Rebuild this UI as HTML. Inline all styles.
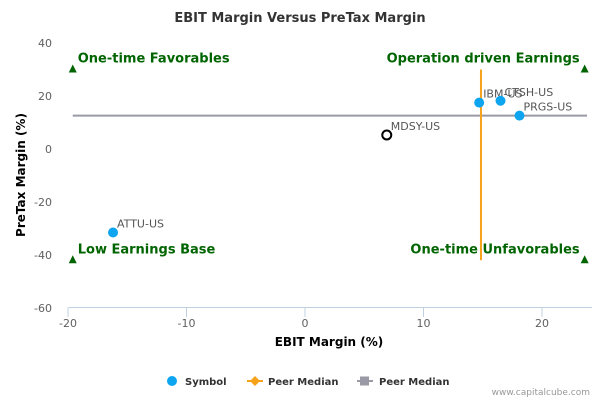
<!DOCTYPE html>
<html><head><meta charset="utf-8"><style>
body{margin:0;background:#fff;font-family:"Liberation Sans","DejaVu Sans",sans-serif}
svg text{font-family:"DejaVu Sans","Liberation Sans",sans-serif}
</style></head><body>
<svg id="c" width="600" height="400" xmlns="http://www.w3.org/2000/svg">
<text x="300" y="22" text-anchor="middle" font-size="13" font-weight="bold" fill="#333">EBIT Margin Versus PreTax Margin</text>
<g id="grid"></g>
<line x1="69" y1="307.5" x2="592" y2="307.5" stroke="#c0d0e0"/>
<g id="xt"></g><g id="yt"></g>
<text x="329" y="346" text-anchor="middle" font-size="12" font-weight="bold" fill="#000">EBIT Margin (%)</text>
<text transform="translate(25,175) rotate(-90)" text-anchor="middle" font-size="12" font-weight="bold" fill="#000">PreTax Margin (%)</text>
<g id="marks"></g>
<g font-size="10" font-weight="bold" fill="#333">
<g><circle cx="172" cy="381" r="5" fill="#0ea5f0"/><text x="185" y="385">Symbol</text></g>
<g><line x1="247" y1="381" x2="263" y2="381" stroke="#f7a21b" stroke-width="2"/><path d="M255 376 L260 381 L255 386 L250 381Z" fill="#f7a21b"/><text x="268" y="385">Peer Median</text></g>
<g><line x1="357" y1="381" x2="373" y2="381" stroke="#999aa5" stroke-width="2"/><rect x="360" y="376.5" width="9" height="9" fill="#999aa5"/><text x="379" y="385">Peer Median</text></g>
</g>
<text x="590" y="395" text-anchor="end" font-size="9" fill="#999">www.capitalcube.com</text>
</svg>
<script>
const symbols=["ATTU-US","MDSY-US","IBM-US","CTSH-US","PRGS-US"];
const ebit=[-16.2,6.9,14.7,16.5,18.1];
const pretax=[-31.5,5.3,17.5,18.2,12.6];
const medianEbit=[14.85];
const medianPretax=[12.6];
const xTicks=[-20,-10,0,10,20];
const yTicks=[40,20,0,-20,-40,-60];
const quadrants=["One-time Favorables","Operation driven Earnings","Low Earnings Base","One-time Unfavorables"];
const quadX=[-19.6,23.6,-19.6,23.6];
const quadY=[30,30,-42,-42];
const X=v=>305+v*11.85, Y=v=>149-v*2.65;
const NS="http://www.w3.org/2000/svg";
function mk(p,t,a){const e=document.createElementNS(NS,t);for(const k in a)e.setAttribute(k,a[k]);document.getElementById(p).appendChild(e);return e;}
xTicks.forEach(v=>{
 const l=mk('xt','line',{x1:X(v),x2:X(v),y1:307,y2:317,stroke:'#c0d0e0'});
 
 
 const t=mk('xt','text',{x:X(v),y:327,'text-anchor':'middle','font-size':11,fill:'#606060'});t.textContent=v;
 
 
});
yTicks.forEach(v=>{
 const t=mk('yt','text',{x:52,y:Y(v)+4,'text-anchor':'end','font-size':11,fill:'#606060'});t.textContent=v;
 
 
});
const hl=mk('marks','line',{x1:X(-19.6),x2:X(23.8),y1:Y(medianPretax[0]),y2:Y(medianPretax[0]),stroke:'#999aa5','stroke-width':2});


const vl=mk('marks','line',{x1:X(medianEbit[0]),x2:X(medianEbit[0]),y1:Y(30),y2:Y(-42),stroke:'#f7a21b','stroke-width':2});


quadrants.forEach((q,i)=>{
 const x=X(quadX[i]),y=Y(quadY[i]);
 const p=mk('marks','path',{d:`M${x} ${y-5}L${x+4} ${y+3}L${x-4} ${y+3}Z`,fill:'#006400'});
 
 
 const left=i%2==0;
 const t=mk('marks','text',{x:left?x+5:x-5,y:y-7,'text-anchor':left?'start':'end','font-size':13,'font-weight':'bold',fill:'#006400'});t.textContent=q;
 
 
});
symbols.forEach((s,i)=>{
 const x=X(ebit[i]),y=Y(pretax[i]);
 const c=s==="MDSY-US"?mk('marks','circle',{cx:x,cy:y,r:4.5,fill:'#fff',stroke:'#000','stroke-width':2}):mk('marks','circle',{cx:x,cy:y,r:5,fill:'#0ea5f0'});
 
 
 const t=mk('marks','text',{x:x+4,y:y-5,'font-size':11,fill:'#555'});t.textContent=s;
 
 
});
</script>
</body></html>
